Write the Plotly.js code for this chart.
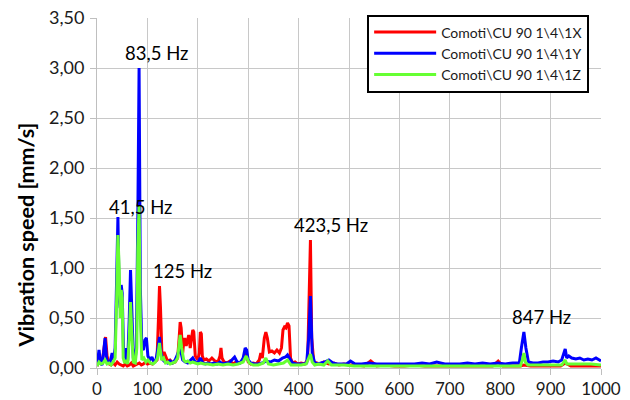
<!DOCTYPE html>
<html>
<head>
<meta charset="utf-8">
<script src="https://cdn.plot.ly/plotly-3.0.1.min.js"></script>
<style>html,body{margin:0;padding:0;background:#fff;}#chart{width:630px;height:400px;}</style>
</head>
<body>
<div id="chart"></div>
<script>
// Series names
const seriesNames = ["Comoti\\CU 90 1\\4\\1X", "Comoti\\CU 90 1\\4\\1Y", "Comoti\\CU 90 1\\4\\1Z"];
const yTitle = "Vibration speed [mm/s]";

// Series X (red)
const freqX = [0,3,6,10,14,17,20,24,28,32,36,40,44,48,52,56,60,64,68,72,76,80,84,88,92,96,100,105,110,115,119,122,124,126,129,133,136,140,145,150,155,160,163,165,167,170,172,174,177,180,182,185,188,190,192,195,200,203,205,207,209,212,217,222,228,234,240,244,246,248,252,258,264,270,276,282,288,292,296,300,305,310,316,322,325,328,332,335,338,342,347,352,357,362,366,369,372,375,378,381,384,388,393,398,405,412,418,421,423.5,426,430,436,442,450,460,470,480,490,500,515,530,543,555,570,590,610,630,650,670,690,710,730,750,770,785,796,805,820,840,847,860,880,900,920,929,940,960,980,1000];
const valX = [0.02,0.05,0.10,0.04,0.20,0.31,0.12,0.04,0.03,0.05,0.03,0.06,0.04,0.03,0.02,0.04,0.02,0.03,0.05,0.02,0.03,0.04,0.05,0.03,0.04,0.06,0.04,0.05,0.04,0.06,0.08,0.50,0.82,0.60,0.10,0.16,0.12,0.07,0.08,0.05,0.06,0.10,0.30,0.46,0.40,0.15,0.26,0.30,0.22,0.30,0.33,0.20,0.30,0.38,0.36,0.12,0.08,0.15,0.36,0.34,0.12,0.08,0.09,0.07,0.10,0.07,0.06,0.12,0.20,0.10,0.06,0.05,0.07,0.04,0.06,0.05,0.07,0.10,0.15,0.06,0.04,0.05,0.04,0.08,0.15,0.10,0.30,0.36,0.30,0.16,0.17,0.15,0.18,0.15,0.20,0.38,0.41,0.40,0.45,0.42,0.10,0.05,0.06,0.04,0.05,0.04,0.08,0.60,1.28,0.30,0.06,0.05,0.04,0.06,0.04,0.05,0.03,0.04,0.03,0.03,0.02,0.07,0.02,0.03,0.02,0.02,0.03,0.02,0.02,0.02,0.02,0.02,0.02,0.02,0.02,0.07,0.02,0.02,0.02,0.03,0.02,0.02,0.02,0.02,0.05,0.02,0.02,0.02,0.02];

// Series Y (blue)
const freqY = [0,2,4,7,10,13,16,19,22,26,30,33,36,39,41.5,44,46,48,50,53,56,58,61,64,66.5,69,72,75,78,81,83.5,86,89,92,95,98,101,105,109,113,117,121,124,127,131,135,140,145,150,155,160,165,170,175,180,185,190,195,200,205,210,215,220,226,232,238,244,250,256,262,268,273,278,284,290,294,297,300,305,312,320,328,336,344,352,360,368,374,378,382,388,395,402,410,416,420,423.5,427,432,438,445,452,460,468,476,485,495,503,512,525,540,555,570,585,600,615,630,645,660,674,690,705,720,735,750,765,780,795,810,825,838,842,847,851,856,865,875,885,895,905,915,922,926,929,932,936,942,950,958,966,974,982,990,1000];
const valY = [0.02,0.10,0.18,0.05,0.03,0.15,0.30,0.10,0.04,0.06,0.15,0.08,0.20,0.90,1.51,0.70,0.60,0.83,0.75,0.10,0.20,0.05,0.08,0.50,0.98,0.60,0.10,0.05,0.20,1.50,3.00,0.80,0.20,0.18,0.28,0.30,0.12,0.08,0.11,0.06,0.08,0.20,0.31,0.15,0.08,0.06,0.05,0.07,0.05,0.08,0.15,0.20,0.08,0.06,0.05,0.08,0.10,0.06,0.05,0.10,0.05,0.04,0.05,0.04,0.05,0.04,0.06,0.04,0.05,0.05,0.08,0.11,0.06,0.05,0.10,0.20,0.18,0.08,0.05,0.04,0.04,0.05,0.07,0.06,0.08,0.07,0.10,0.11,0.13,0.10,0.05,0.04,0.04,0.04,0.05,0.30,0.72,0.15,0.05,0.04,0.05,0.06,0.08,0.05,0.04,0.04,0.04,0.07,0.04,0.04,0.05,0.04,0.04,0.04,0.04,0.04,0.04,0.05,0.04,0.06,0.04,0.04,0.04,0.05,0.04,0.05,0.04,0.05,0.04,0.05,0.05,0.20,0.36,0.20,0.06,0.05,0.05,0.06,0.06,0.07,0.06,0.08,0.15,0.19,0.10,0.12,0.10,0.09,0.10,0.08,0.09,0.08,0.10,0.07];

// Series Z (green)
const freqZ = [0,4,8,12,16,20,24,28,32,36,39,41.5,44,46,48,50,52,55,58,61,64,66.5,69,72,76,79,81,83.5,86,89,93,97,101,106,111,116,120,124,128,132,136,140,145,150,155,160,163,165,168,172,176,180,185,190,195,200,206,212,220,230,240,250,260,270,280,290,296,302,310,320,330,335,340,350,360,370,378,385,395,405,415,420,423.5,427,432,440,450,458,465,475,490,510,540,580,620,660,700,740,780,820,840,844,847,850,855,870,890,910,922,926,929,932,940,960,980,1000];
const valZ = [0.02,0.06,0.04,0.05,0.08,0.04,0.05,0.03,0.06,0.10,0.70,1.33,1.00,0.50,0.78,0.70,0.10,0.05,0.08,0.04,0.30,0.66,0.35,0.06,0.05,0.20,1.20,1.63,0.50,0.08,0.10,0.06,0.08,0.05,0.04,0.06,0.10,0.25,0.08,0.10,0.05,0.06,0.04,0.05,0.06,0.10,0.25,0.33,0.20,0.08,0.06,0.07,0.05,0.06,0.05,0.04,0.05,0.04,0.04,0.03,0.04,0.03,0.04,0.03,0.04,0.06,0.12,0.05,0.03,0.03,0.05,0.10,0.04,0.03,0.04,0.05,0.08,0.03,0.03,0.03,0.04,0.10,0.14,0.06,0.03,0.04,0.03,0.07,0.03,0.03,0.03,0.02,0.02,0.02,0.02,0.02,0.02,0.02,0.02,0.02,0.02,0.08,0.15,0.06,0.03,0.03,0.03,0.03,0.03,0.06,0.08,0.04,0.04,0.04,0.04,0.03];

// Peak labels
const peakLabels = ["83,5 Hz", "41,5 Hz", "125 Hz", "423,5 Hz", "847 Hz"];
const peakLabelX = [118, 86.5, 170, 464, 882];
const peakLabelY = [3.15, 1.61, 0.97, 1.43, 0.51];

const colors = ["#ff0000", "#0000ff", "#66ff33"];
const FONT = "Lato, 'Open Sans', sans-serif";

const traces = [
  {x: freqX, y: valX, name: seriesNames[0]},
  {x: freqY, y: valY, name: seriesNames[1]},
  {x: freqZ, y: valZ, name: seriesNames[2]}
].map((t, i) => Object.assign(t, {type: "scatter", mode: "lines", line: {color: colors[i], width: 3}, hoverinfo: "skip"}));

const annotations = peakLabels.map((t, i) => ({
  x: peakLabelX[i], y: peakLabelY[i], xref: "x", yref: "y", text: t, showarrow: false,
  font: {family: FONT, size: 18.5, color: "#000"}
}));
// y-axis title (placed as in the reference, below the axis centre)
annotations.push({
  xref: "paper", yref: "paper", x: -0.14, y: 0.38, xanchor: "center", yanchor: "middle",
  text: "<b>" + yTitle + "</b>", textangle: -90, showarrow: false,
  font: {family: FONT, size: 21.5, color: "#000"}
});

const layout = {
  width: 630, height: 400,
  margin: {l: 97, r: 29, t: 18, b: 32},
  paper_bgcolor: "#fff", plot_bgcolor: "#fff",
  separators: ", ",
  font: {family: FONT, size: 14, color: "#404040"},
  showlegend: true,
  legend: {x: 0.536, xanchor: "left", y: 1.01, yanchor: "top", bgcolor: "#fff", bordercolor: "#000", borderwidth: 2,
    font: {family: FONT, size: 14, color: "#1a1a1a"}, tracegroupgap: 0, itemwidth: 62},
  xaxis: {range: [0, 1000], dtick: 100, tickformat: "d", showgrid: true, gridcolor: "#c8c8c8", gridwidth: 1,
    ticks: "outside", ticklen: 6, tickcolor: "#bfbfbf", showline: true, linecolor: "#bfbfbf", zeroline: false,
    ticklabelstandoff: 0,
    tickfont: {family: FONT, size: 17, color: "#1a1a1a"}, automargin: false, fixedrange: true},
  yaxis: {range: [0, 3.5], dtick: 0.5, tickformat: ".2f", showgrid: true, gridcolor: "#c8c8c8", gridwidth: 1,
    ticks: "outside", ticklen: 6, tickcolor: "#bfbfbf", showline: true, linecolor: "#bfbfbf", zeroline: false,
    ticklabelstandoff: 2,
    tickfont: {family: FONT, size: 18, color: "#1a1a1a"}, automargin: false, fixedrange: true},
  annotations: annotations
};

Plotly.newPlot("chart", traces, layout, {displayModeBar: false, staticPlot: true});
</script>
</body>
</html>
